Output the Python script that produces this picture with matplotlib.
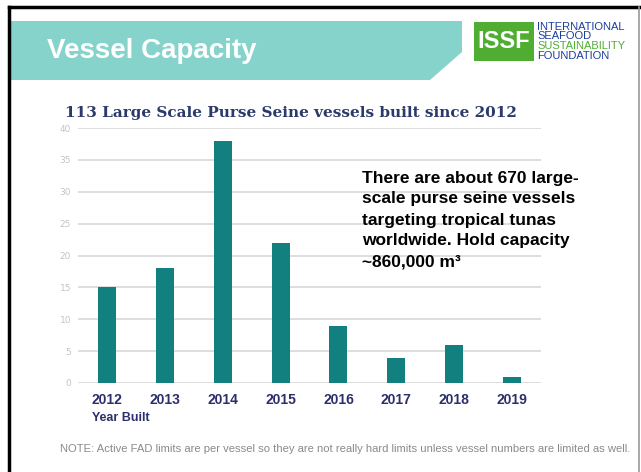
import matplotlib.pyplot as plt
from matplotlib.patches import Polygon, Rectangle
from matplotlib.lines import Line2D

years = ["2012", "2013", "2014", "2015", "2016", "2017", "2018", "2019"]
vessels = [15, 18, 38, 22, 9, 4, 6, 1]
y_ticks = [0, 5, 10, 15, 20, 25, 30, 35, 40]

W, H = 641, 472
fig = plt.figure(figsize=(W / 100, H / 100), dpi=100)
fig.patch.set_facecolor("white")


def fx(px):
    return px / W


def fy(py):
    return 1 - py / H


# slide frame
fig.add_artist(Line2D([fx(9), fx(9)], [fy(7), 0], color="black", lw=2.5))
fig.add_artist(Line2D([fx(9), fx(639)], [fy(7), fy(7)], color="black", lw=2.5))
fig.add_artist(Line2D([fx(639), fx(639)], [fy(7), 0], color="#9a9a9a", lw=1.2))

# header band
band = [(10, 21), (462, 21), (462, 52), (430, 80), (10, 80)]
fig.add_artist(Polygon([(fx(x), fy(y)) for x, y in band], closed=True,
                       facecolor="#86D3CC", edgecolor="none"))
fig.text(fx(47), fy(51), "Vessel Capacity", color="white", fontsize=20,
         fontweight="bold", family="Liberation Sans", va="center", ha="left")

# ISSF logo
fig.add_artist(Rectangle((fx(474), fy(61)), fx(60), (61 - 22) / H,
                         facecolor="#4FAE32", edgecolor="none"))
fig.text(fx(504), fy(42), "ISSF", color="white", fontsize=17, fontweight="bold",
         family="Liberation Sans", ha="center", va="center")
logo_lines = [("INTERNATIONAL", "#1c3f9e"), ("SEAFOOD", "#1c3f9e"),
              ("SUSTAINABILITY", "#4FAE32"), ("FOUNDATION", "#1c3f9e")]
for i, (txt, c) in enumerate(logo_lines):
    fig.text(fx(537), fy(26.5 + i * 9.7), txt, color=c, fontsize=8,
             family="Liberation Sans", ha="left", va="center")

# chart
ax = fig.add_axes([fx(78), fy(383), fx(541) - fx(78), fy(128) - fy(383)])
x = list(range(len(years)))
ax.bar(x, vessels, width=0.31, color="#12807E", zorder=3)
ax.set_xlim(-0.5, 7.5)
ax.set_ylim(0, 40)
ax.set_yticks(y_ticks)
ax.set_yticklabels([str(v) for v in y_ticks], color="#c4c4c4", fontsize=6.5)
ax.grid(axis="y", color="#dedede", lw=1.4, zorder=0)
ax.set_xticks(x)
ax.set_xticklabels(years, color="#2c2f6b", fontsize=10, fontweight="bold",
                   family="Liberation Sans")
ax.tick_params(axis="both", length=0)
ax.tick_params(axis="x", pad=7)
ax.tick_params(axis="y", pad=5)
for s in ax.spines.values():
    s.set_visible(False)

fig.text(fx(92), fy(418), "Year Built", color="#2c2f6b", fontsize=9,
         fontweight="bold", family="Liberation Sans", ha="left", va="center")

fig.text(fx(65), fy(113), "113 Large Scale Purse Seine vessels built since 2012",
         color="#2b3a6b", fontsize=11, fontweight="bold", family="DejaVu Serif",
         ha="left", va="center")

note_lines = ["There are about 670 large-", "scale purse seine vessels",
              "targeting tropical tunas", "worldwide. Hold capacity",
              "~860,000 m\u00b3"]
for i, line in enumerate(note_lines):
    fig.text(fx(362), fy(178 + i * 21), line, color="black", fontsize=12.5,
             fontweight="bold", family="Liberation Sans", ha="left", va="center")

fig.text(fx(60), fy(449),
         "NOTE: Active FAD limits are per vessel so they are not really hard limits "
         "unless vessel numbers are limited as well.",
         color="#8a8a8a", fontsize=8.1, family="Liberation Sans", ha="left", va="center")

fig.savefig("out.png", dpi=100)
